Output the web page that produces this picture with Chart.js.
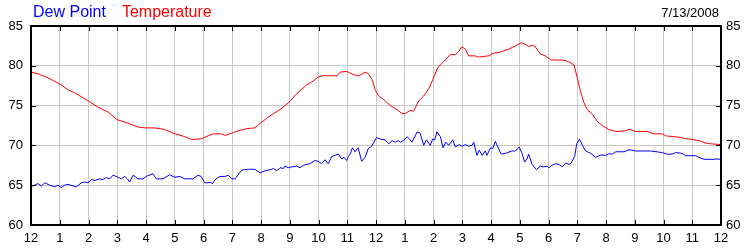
<!DOCTYPE html>
<html>
<head>
<meta charset="utf-8">
<script src="https://cdn.jsdelivr.net/npm/chart.js@4.4.1/dist/chart.umd.min.js"></script>
<style>
  html, body { margin: 0; padding: 0; background: #fff; }
  #wrap { width: 750px; height: 250px; }
</style>
</head>
<body>
<div id="wrap"><canvas id="chart"></canvas></div>
<script>
// hours since midnight, 7/13/2008
const tempHours = [0, 0.24, 0.59, 1.0, 1.29, 1.52, 1.99, 2.33, 2.68, 2.98, 3.37, 3.72, 3.98, 4.3, 4.65, 4.97, 5.35, 5.57, 5.88, 5.97,
  6.16, 6.34, 6.63, 6.75, 6.98, 7.27, 7.5, 7.79, 7.98, 8.31, 8.66, 8.97, 9.24, 9.59, 9.82, 9.99, 10.17, 10.65, 10.75, 10.98,
  11.15, 11.33, 11.44, 11.62, 11.73, 11.86, 11.98, 12.09, 12.32, 12.5, 12.73, 12.9, 13.02, 13.19, 13.31, 13.49, 13.66, 13.83, 13.97, 14.15,
  14.35, 14.58, 14.76, 14.88, 14.99, 15.11, 15.22, 15.45, 15.57, 15.92, 16.09, 16.32, 16.62, 16.85, 17.05, 17.19, 17.31, 17.43, 17.54, 17.71,
  17.89, 18.08, 18.54, 18.71, 18.89, 19.0, 19.12, 19.23, 19.35, 19.52, 19.7, 19.87, 20.1, 20.34, 20.63, 20.8, 20.91, 21.03, 21.44, 21.67,
  21.96, 22.08, 22.6, 22.77, 23.0, 23.29, 23.41, 23.64, 24];
const tempValues = [79.2, 79.0, 78.5, 77.7, 77.0, 76.6, 75.6, 74.8, 74.2, 73.25, 72.8, 72.3, 72.2, 72.2, 72.0, 71.5, 71.1, 70.75, 70.8, 70.9,
  71.2, 71.45, 71.45, 71.25, 71.55, 71.9, 72.1, 72.2, 72.8, 73.7, 74.5, 75.4, 76.5, 77.6, 78.1, 78.6, 78.75, 78.75, 79.2, 79.3,
  79.0, 78.75, 78.8, 79.2, 79.0, 78.3, 76.9, 76.25, 75.6, 75.0, 74.5, 74.0, 74.0, 74.4, 74.3, 75.6, 76.2, 77.1, 78.2, 79.8,
  80.5, 81.4, 81.4, 81.8, 82.4, 82.1, 81.25, 81.25, 81.1, 81.25, 81.6, 81.7, 82.1, 82.5, 82.9, 82.7, 82.4, 82.6, 82.4, 81.5,
  81.25, 80.75, 80.7, 80.5, 80.1, 78.5, 76.7, 75.4, 74.5, 73.95, 73.0, 72.5, 72.0, 71.75, 71.8, 72.0, 71.9, 71.75, 71.75, 71.45,
  71.45, 71.2, 71.0, 70.85, 70.75, 70.55, 70.35, 70.2, 70.1];

const dewHours = [0, 0.07, 0.24, 0.36, 0.48, 0.65, 0.82, 0.94, 1.05, 1.17, 1.29, 1.46, 1.58, 1.75, 1.87, 1.98, 2.1, 2.22, 2.39, 2.5,
  2.62, 2.74, 2.85, 2.97, 3.14, 3.26, 3.35, 3.43, 3.55, 3.72, 3.9, 4.01, 4.24, 4.36, 4.59, 4.82, 5.0, 5.17, 5.35, 5.63,
  5.81, 5.92, 6.04, 6.16, 6.23, 6.32, 6.4, 6.57, 6.75, 6.86, 6.98, 7.1, 7.33, 7.56, 7.79, 7.97, 8.14, 8.37, 8.43, 8.55,
  8.66, 8.78, 8.83, 8.95, 9.07, 9.24, 9.36, 9.47, 9.7, 9.88, 9.99, 10.11, 10.23, 10.34, 10.46, 10.57, 10.69, 10.81, 10.89, 10.98,
  11.04, 11.1, 11.18, 11.27, 11.38, 11.5, 11.62, 11.73, 11.85, 12.02, 12.14, 12.32, 12.44, 12.56, 12.67, 12.77, 12.85, 12.96, 13.08, 13.19,
  13.25, 13.43, 13.54, 13.66, 13.75, 13.89, 13.97, 14.04, 14.12, 14.24, 14.33, 14.43, 14.53, 14.67, 14.76, 14.9, 14.99, 15.11, 15.22, 15.34,
  15.4, 15.51, 15.59, 15.69, 15.8, 15.86, 15.98, 16.06, 16.15, 16.24, 16.35, 16.5, 16.73, 16.85, 16.98, 17.08, 17.17, 17.25, 17.31, 17.43,
  17.58, 17.71, 17.83, 17.95, 18.01, 18.12, 18.25, 18.37, 18.48, 18.6, 18.71, 18.79, 18.91, 18.98, 19.08, 19.18, 19.29, 19.47, 19.64, 19.82,
  19.99, 20.1, 20.22, 20.34, 20.63, 20.8, 20.91, 21.03, 21.55, 21.96, 22.13, 22.3, 22.42, 22.65, 22.77, 23.12, 23.23, 23.41, 23.76, 23.82, 24];
const dewValues = [65.0, 64.9, 65.2, 64.9, 65.3, 65.0, 64.8, 65.0, 64.7, 65.0, 65.1, 64.9, 64.8, 65.3, 65.4, 65.3, 65.7, 65.6, 65.8, 65.7,
  65.95, 65.8, 66.25, 66.1, 65.8, 66.1, 65.8, 65.4, 66.25, 65.8, 65.8, 66.1, 66.45, 65.8, 65.8, 66.3, 66.0, 66.1, 65.8, 65.8,
  66.25, 66.1, 65.3, 65.3, 65.35, 65.2, 65.7, 66.1, 66.1, 66.25, 65.8, 65.8, 66.9, 67.0, 67.0, 66.55, 66.8, 67.0, 67.1, 66.8,
  67.2, 67.1, 67.4, 67.2, 67.3, 67.4, 67.2, 67.5, 67.7, 68.1, 68.0, 67.7, 68.2, 67.7, 68.6, 68.75, 68.9, 68.3, 68.5, 68.1,
  68.6, 68.9, 69.7, 69.2, 69.7, 68.0, 68.5, 69.6, 69.9, 71.0, 70.8, 70.7, 70.2, 70.6, 70.4, 70.6, 70.4, 70.6, 71.1, 70.7,
  70.4, 71.7, 71.5, 70.0, 70.7, 70.0, 70.8, 70.7, 71.7, 71.1, 69.7, 70.4, 70.0, 70.7, 69.8, 70.1, 69.9, 70.1, 69.9, 70.0,
  70.4, 68.75, 69.4, 68.75, 69.3, 68.75, 69.7, 69.6, 70.5, 69.8, 68.9, 69.0, 69.3, 69.3, 69.8, 69.0, 67.9, 68.3, 68.9, 67.6,
  66.95, 67.4, 67.3, 67.4, 67.2, 67.5, 67.7, 67.6, 67.3, 67.8, 67.6, 67.8, 68.6, 70.2, 70.8, 70.0, 69.3, 69.0, 68.5, 68.8,
  68.75, 68.95, 68.9, 69.2, 69.2, 69.45, 69.4, 69.3, 69.3, 69.1, 68.9, 68.9, 69.1, 69.0, 68.7, 68.7, 68.5, 68.25, 68.25, 68.3, 68.25];

const yTicks = [60, 65, 70, 75, 80, 85];
const seriesNames = ["Dew Point", "Temperature"];
const seriesColors = ["#0000ff", "#ff0000"];
const dateLabel = "7/13/2008";

const FONT = "Liberation Sans, Arial, sans-serif";

const toPoints = (xs, ys) => xs.map((x, i) => ({ x, y: ys[i] }));

// frame, inward tick marks, colored legend text and the date
const decorations = {
    id: "decorations",
    afterDatasetsDraw(chart) {
        const { ctx, chartArea: a, scales } = chart;
        ctx.save();
        ctx.strokeStyle = "#000";
        ctx.lineWidth = 1;
        ctx.beginPath();
        scales.x.ticks.forEach(t => {
            const px = Math.round(scales.x.getPixelForValue(t.value)) + 0.5;
            ctx.moveTo(px, a.bottom); ctx.lineTo(px, a.bottom - 5);
            ctx.moveTo(px, a.top); ctx.lineTo(px, a.top + 5);
        });
        yTicks.forEach(v => {
            const py = Math.round(scales.y.getPixelForValue(v)) + 0.5;
            ctx.moveTo(a.left, py); ctx.lineTo(a.left + 5, py);
            ctx.moveTo(a.right, py); ctx.lineTo(a.right - 5, py);
        });
        ctx.stroke();
        ctx.lineWidth = 2;
        ctx.strokeRect(a.left, a.top, a.right - a.left, a.bottom - a.top);

        ctx.font = "16px " + FONT;
        ctx.textBaseline = "alphabetic";
        ctx.textAlign = "left";
        let x = 33;
        seriesNames.forEach((name, i) => {
            ctx.fillStyle = seriesColors[i];
            ctx.fillText(name, x, 17);
            x += ctx.measureText(name).width + 16;
        });
        ctx.font = "13px " + FONT;
        ctx.fillStyle = "#000";
        ctx.textAlign = "right";
        ctx.fillText(dateLabel, 719, 17);
        ctx.restore();
    }
};

const yScale = (position, width) => ({
    type: "linear",
    position,
    min: 60,
    max: 85,
    afterFit: s => { s.width = width; },
    afterBuildTicks: s => { s.ticks = yTicks.map(v => ({ value: v })); },
    border: { display: false },
    grid: { display: position === "left", color: "#c8c8c8", drawTicks: false },
    ticks: { color: "#000", padding: position === "left" ? 8 : 5, font: { family: FONT, size: 13 } }
});

new Chart(document.getElementById("chart"), {
    type: "line",
    data: {
        datasets: [
            { label: seriesNames[0], data: toPoints(dewHours, dewValues), borderColor: seriesColors[0] },
            { label: seriesNames[1], data: toPoints(tempHours, tempValues), borderColor: seriesColors[1] }
        ]
    },
    options: {
        responsive: true,
        maintainAspectRatio: false,
        animation: false,
        layout: { padding: { top: 26, left: 0, right: 0, bottom: 0 } },
        elements: {
            line: { borderWidth: 1, tension: 0 },
            point: { radius: 0 }
        },
        plugins: { legend: { display: false }, tooltip: { enabled: false } },
        scales: {
            x: {
                type: "linear",
                min: 0,
                max: 24,
                afterFit: s => { s.height = 25; },
                border: { display: false },
                grid: { color: "#c8c8c8", drawTicks: false },
                ticks: {
                    stepSize: 1,
                    autoSkip: false,
                    maxRotation: 0,
                    padding: 6,
                    color: "#000",
                    font: { family: FONT, size: 13 },
                    callback: v => (v % 12) || 12
                }
            },
            y: yScale("left", 31),
            y2: yScale("right", 29)
        }
    },
    plugins: [decorations]
});
</script>
</body>
</html>
